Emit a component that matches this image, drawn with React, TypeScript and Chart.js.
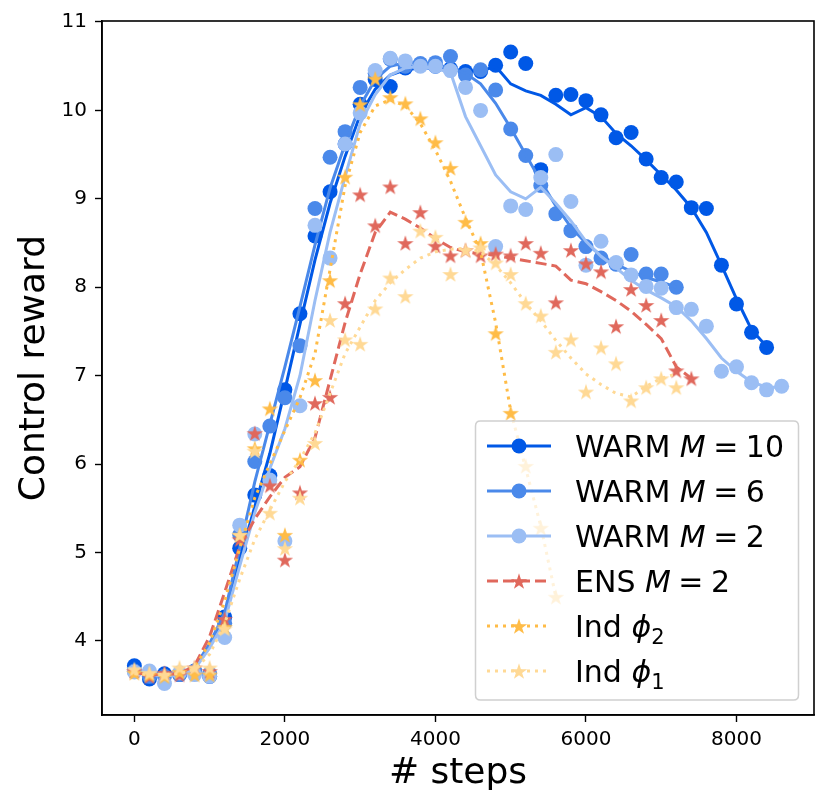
import React, { useEffect, useRef } from 'react';
import { Chart, registerables } from 'chart.js';

Chart.register(...registerables);

const STEPS = [0, 200, 400, 600, 800, 1000, 1200, 1400, 1600, 1800, 2000, 2200, 2400, 2600, 2800, 3000, 3200, 3400, 3600, 3800, 4000, 4200, 4400, 4600, 4800, 5000, 5200, 5400, 5600, 5800, 6000, 6200, 6400, 6600, 6800, 7000, 7200, 7400, 7600, 7800, 8000, 8200, 8400, 8600];
const X_TICKS = [0, 2000, 4000, 6000, 8000];
const Y_TICKS = [4, 5, 6, 7, 8, 9, 10, 11];

// WARM M=10
const M10_POINTS = [3.72, 3.57, 3.63, 3.62, 3.66, 3.60, 4.27, 5.05, 5.65, 5.87, 6.84, 7.70, 8.58, 9.08, 9.62, 10.07, 10.35, 10.27, 10.48, 10.52, 10.50, 10.47, 10.44, 10.44, 10.51, 10.66, 10.53, 9.33, 10.17, 10.18, 10.11, 9.95, 9.69, 9.75, 9.45, 9.24, 9.19, 8.90, 8.89, 8.25, 7.81, 7.49, 7.32];
const M10_LINE = [3.66, 3.63, 3.62, 3.62, 3.70, 3.95, 4.28, 4.92, 5.52, 6.12, 6.84, 7.58, 8.31, 8.95, 9.48, 9.95, 10.24, 10.40, 10.46, 10.48, 10.48, 10.46, 10.45, 10.44, 10.50, 10.30, 10.22, 10.17, 10.07, 9.95, 10.03, 9.93, 9.74, 9.60, 9.44, 9.27, 9.10, 8.90, 8.62, 8.25, 7.87, 7.52, 7.33];

// WARM M=6
const M6_POINTS = [3.66, 3.60, 3.60, 3.62, 3.66, 3.63, 4.20, 5.20, 6.03, 6.43, 6.75, 7.34, 8.89, 9.47, 9.76, 10.26, 10.42, 10.58, 10.50, 10.53, 10.54, 10.61, 10.40, 10.46, 10.23, 9.79, 9.49, 9.15, 8.83, 8.64, 8.46, 8.33, 8.26, 8.37, 8.15, 8.15, 8.00];
const M6_LINE = [3.65, 3.63, 3.62, 3.62, 3.70, 3.97, 4.32, 5.05, 5.80, 6.45, 7.10, 7.78, 8.48, 9.12, 9.62, 10.05, 10.35, 10.50, 10.54, 10.54, 10.52, 10.48, 10.42, 10.30, 10.08, 9.80, 9.50, 9.20, 8.92, 8.68, 8.50, 8.36, 8.26, 8.18, 8.11, 8.06, 8.00];

// WARM M=2
const M2_POINTS = [3.65, 3.66, 3.52, 3.64, 3.62, 3.60, 4.04, 5.31, 6.34, 5.82, 5.13, 6.66, 8.70, 8.33, 9.62, 9.97, 10.45, 10.59, 10.56, 10.50, 10.50, 10.45, 10.26, 10.00, 8.46, 8.92, 8.88, 9.24, 9.50, 8.97, 8.25, 8.52, 8.28, 8.14, 8.01, 7.99, 7.77, 7.75, 7.56, 7.05, 7.10, 6.92, 6.84, 6.88];
const M2_LINE = [3.64, 3.62, 3.60, 3.62, 3.68, 3.92, 4.22, 4.85, 5.45, 5.95, 6.40, 7.00, 7.85, 8.62, 9.25, 9.85, 10.18, 10.40, 10.48, 10.50, 10.47, 10.43, 9.93, 9.60, 9.27, 9.08, 9.00, 9.13, 8.95, 8.75, 8.52, 8.35, 8.22, 8.08, 7.97, 7.88, 7.78, 7.62, 7.42, 7.20, 7.05, 6.93, 6.87, 6.87];

// ENS M=2
const ENS_POINTS = [3.66, 3.60, 3.64, 3.62, 3.70, 3.66, 4.25, 5.15, 6.35, 5.76, 4.92, 5.68, 6.69, 6.76, 7.82, 9.05, 8.70, 9.14, 8.50, 8.85, 8.47, 8.36, 8.42, 8.36, 8.38, 8.36, 8.50, 8.39, 7.83, 8.42, 8.27, 8.18, 7.56, 7.98, 7.80, 7.63, 7.06, 6.97];
const ENS_LINE = [3.64, 3.62, 3.62, 3.63, 3.72, 4.05, 4.55, 5.07, 5.38, 5.63, 5.85, 5.97, 6.30, 6.95, 7.60, 8.15, 8.62, 8.85, 8.77, 8.67, 8.55, 8.45, 8.40, 8.38, 8.36, 8.33, 8.30, 8.27, 8.24, 8.08, 8.04, 7.95, 7.85, 7.73, 7.58, 7.42, 7.10, 6.97];

// Ind phi2
const PHI2_POINTS = [3.64, 3.62, 3.60, 3.65, 3.62, 3.62, 4.16, 5.20, 6.18, 6.63, 5.20, 6.05, 6.95, 8.08, 9.25, 10.07, 10.36, 10.15, 10.08, 9.91, 9.64, 9.35, 8.74, 8.50, 7.48, 6.58, 5.98, 5.28, 4.50];
const PHI2_LINE = [3.63, 3.62, 3.62, 3.63, 3.70, 3.98, 4.45, 5.05, 5.62, 6.00, 6.38, 6.75, 7.25, 8.20, 9.15, 9.75, 10.05, 10.12, 10.05, 9.85, 9.55, 9.20, 8.78, 8.40, 7.60, 6.60, 5.95, 5.30, 4.50];

// Ind phi1
const PHI1_POINTS = [3.68, 3.64, 3.62, 3.70, 3.70, 3.70, 4.14, 5.20, 6.15, 5.45, 5.05, 5.62, 6.24, 7.63, 7.41, 7.36, 7.76, 8.11, 7.90, 8.64, 8.57, 8.15, 8.42, 8.45, 8.28, 8.15, 7.82, 7.68, 7.27, 7.41, 6.82, 7.32, 7.14, 6.72, 6.87, 6.97, 6.87];
const PHI1_LINE = [3.63, 3.62, 3.62, 3.63, 3.68, 3.85, 4.20, 4.70, 5.15, 5.48, 5.80, 6.05, 6.35, 6.80, 7.25, 7.55, 7.85, 8.05, 8.20, 8.33, 8.40, 8.43, 8.44, 8.40, 8.25, 8.05, 7.82, 7.62, 7.40, 7.20, 7.02, 6.90, 6.80, 6.76, 6.88, 6.97, 7.02];

const COLORS = ['#0058e6', '#4a89ea', '#9bbef4', '#e0685c', '#ffbc47', '#ffd995'];

type Part = [string, 'n' | 'i' | 'sub' | 'op'];
const LEGEND_PARTS: Part[][] = [
  [['WARM ', 'n'], ['M', 'i'], ['=', 'op'], ['10', 'n']],
  [['WARM ', 'n'], ['M', 'i'], ['=', 'op'], ['6', 'n']],
  [['WARM ', 'n'], ['M', 'i'], ['=', 'op'], ['2', 'n']],
  [['ENS ', 'n'], ['M', 'i'], ['=', 'op'], ['2', 'n']],
  [['Ind ', 'n'], ['\u03D5', 'i'], ['2', 'sub']],
  [['Ind ', 'n'], ['\u03D5', 'i'], ['1', 'sub']],
];

const FONT = "'DejaVu Sans', 'Noto Sans', sans-serif";

function makeStar(color: string, R: number): HTMLCanvasElement {
  const size = Math.ceil(R * 2 + 2);
  const c = document.createElement('canvas');
  c.width = size;
  c.height = size;
  const ctx = c.getContext('2d')!;
  const cx = size / 2;
  const cy = size / 2 + R * 0.1;
  const r = R * 0.382;
  ctx.beginPath();
  for (let k = 0; k < 10; k++) {
    const rad = k % 2 === 0 ? R : r;
    const a = -Math.PI / 2 + (k * Math.PI) / 5;
    const px = cx + rad * Math.cos(a);
    const py = cy + rad * Math.sin(a);
    if (k === 0) ctx.moveTo(px, py);
    else ctx.lineTo(px, py);
  }
  ctx.closePath();
  ctx.fillStyle = color;
  ctx.fill();
  return c;
}

export default function App() {
  const ref = useRef<HTMLCanvasElement | null>(null);

  useEffect(() => {
    const canvas = ref.current;
    if (!canvas) return;

    const stars = COLORS.map((c) => makeStar(c, 8.6));
    const series = [
      { pts: M10_POINTS, line: M10_LINE, marker: 'circle', dash: [] as number[] },
      { pts: M6_POINTS, line: M6_LINE, marker: 'circle', dash: [] as number[] },
      { pts: M2_POINTS, line: M2_LINE, marker: 'circle', dash: [] as number[] },
      { pts: ENS_POINTS, line: ENS_LINE, marker: 'star', dash: [11, 5] },
      { pts: PHI2_POINTS, line: PHI2_LINE, marker: 'star', dash: [3, 5] },
      { pts: PHI1_POINTS, line: PHI1_LINE, marker: 'star', dash: [3, 5] },
    ];

    const datasets: any[] = [];
    series.forEach((s, i) => {
      const color = COLORS[i];
      datasets.push({
        label: 'pts' + i,
        data: s.pts.map((v, k) => ({ x: STEPS[k], y: v })),
        showLine: false,
        pointStyle: s.marker === 'circle' ? 'circle' : stars[i],
        pointRadius: 7.5,
        pointBackgroundColor: color,
        pointBorderColor: color,
        pointBorderWidth: 0,
        order: 100 - 2 * i,
      });
      datasets.push({
        label: 'line' + i,
        data: s.line.map((v, k) => ({ x: STEPS[k], y: v })),
        showLine: true,
        borderColor: color,
        borderWidth: 3,
        borderDash: s.dash,
        pointRadius: 0,
        tension: 0,
        fill: false,
        order: 99 - 2 * i,
      });
    });

    const framePlugin = {
      id: 'frame',
      afterDraw(chart: any) {
        const { ctx, chartArea } = chart;
        ctx.save();
        ctx.strokeStyle = '#000';
        ctx.lineWidth = 1.6;
        ctx.strokeRect(chartArea.left, chartArea.top, chartArea.right - chartArea.left, chartArea.bottom - chartArea.top);
        ctx.restore();
      },
    };

    const legendPlugin = {
      id: 'customLegend',
      afterDraw(chart: any) {
        const ctx: CanvasRenderingContext2D = chart.ctx;
        ctx.save();
        const bx = 475.5, by = 421, bw = 323, bh = 279, rr = 5;
        ctx.beginPath();
        ctx.moveTo(bx + rr, by);
        ctx.lineTo(bx + bw - rr, by);
        ctx.quadraticCurveTo(bx + bw, by, bx + bw, by + rr);
        ctx.lineTo(bx + bw, by + bh - rr);
        ctx.quadraticCurveTo(bx + bw, by + bh, bx + bw - rr, by + bh);
        ctx.lineTo(bx + rr, by + bh);
        ctx.quadraticCurveTo(bx, by + bh, bx, by + bh - rr);
        ctx.lineTo(bx, by + rr);
        ctx.quadraticCurveTo(bx, by, bx + rr, by);
        ctx.closePath();
        ctx.fillStyle = 'rgba(255,255,255,0.8)';
        ctx.fill();
        ctx.strokeStyle = '#d0d0d0';
        ctx.lineWidth = 1.5;
        ctx.stroke();

        series.forEach((s, i) => {
          const y = 446 + i * 45;
          const color = COLORS[i];
          ctx.strokeStyle = color;
          ctx.lineWidth = 3;
          ctx.setLineDash(s.dash);
          ctx.beginPath();
          ctx.moveTo(487, y);
          ctx.lineTo(551, y);
          ctx.stroke();
          ctx.setLineDash([]);
          if (s.marker === 'circle') {
            ctx.fillStyle = color;
            ctx.beginPath();
            ctx.arc(519, y, 7.5, 0, Math.PI * 2);
            ctx.fill();
          } else {
            const st = stars[i];
            ctx.drawImage(st, 519 - st.width / 2, y - st.height / 2);
          }
          let x = 575;
          const base = y + 10.5;
          ctx.fillStyle = '#000';
          ctx.textBaseline = 'alphabetic';
          ctx.textAlign = 'left';
          LEGEND_PARTS[i].forEach(([t, kind]) => {
            if (kind === 'n') {
              ctx.font = `30px ${FONT}`;
              ctx.fillText(t, x, base);
              x += ctx.measureText(t).width;
            } else if (kind === 'i') {
              ctx.font = `italic 30px ${FONT}`;
              ctx.fillText(t, x, base);
              x += ctx.measureText(t).width;
            } else if (kind === 'op') {
              ctx.font = `30px ${FONT}`;
              x += 7.5;
              ctx.fillText(t, x, base);
              x += ctx.measureText(t).width + 7.5;
            } else {
              ctx.font = `21px ${FONT}`;
              ctx.fillText(t, x, base + 7);
              x += ctx.measureText(t).width;
            }
          });
        });
        ctx.restore();
      },
    };

    const chart = new Chart(canvas, {
      type: 'line',
      data: { datasets },
      options: {
        animation: false,
        responsive: false,
        events: [],
        layout: { padding: { top: 21, right: 16, left: 0, bottom: 0 } },
        plugins: { legend: { display: false }, tooltip: { enabled: false }, title: { display: false } },
        scales: {
          x: {
            type: 'linear',
            min: -430,
            max: 9030,
            afterBuildTicks: (scale: any) => {
              scale.ticks = X_TICKS.map((v) => ({ value: v }));
            },
            afterFit: (scale: any) => {
              scale.height = 96;
            },
            ticks: {
              autoSkip: false,
              maxRotation: 0,
              padding: 6,
              color: '#000',
              font: { family: FONT, size: 20 },
              callback: (v: any) => String(v),
            },
            grid: { drawOnChartArea: false, drawTicks: true, tickLength: 7, tickColor: '#000', tickWidth: 1.4 },
            border: { color: '#000', width: 1.6 },
            title: {
              display: true,
              text: '# steps',
              color: '#000',
              font: { family: FONT, size: 36, lineHeight: 1.2 },
              padding: { top: 0, bottom: 16 },
            },
          },
          y: {
            type: 'linear',
            min: 3.163,
            max: 11.011,
            afterBuildTicks: (scale: any) => {
              scale.ticks = Y_TICKS.map((v) => ({ value: v }));
            },
            afterFit: (scale: any) => {
              scale.width = 102;
            },
            ticks: {
              autoSkip: false,
              padding: 8,
              color: '#000',
              font: { family: FONT, size: 20 },
              callback: (v: any) => String(v),
            },
            grid: { drawOnChartArea: false, drawTicks: true, tickLength: 7, tickColor: '#000', tickWidth: 1.4 },
            border: { color: '#000', width: 1.6 },
            title: {
              display: true,
              text: 'Control reward',
              color: '#000',
              font: { family: FONT, size: 36, lineHeight: 1.2 },
              padding: { top: 13, bottom: 0 },
            },
          },
        },
      },
      plugins: [framePlugin, legendPlugin],
    } as any);

    return () => {
      chart.destroy();
    };
  }, []);

  return (
    <div style={{ position: 'absolute', left: 0, top: 0, width: 830, height: 811, background: '#fff' }}>
      <canvas ref={ref} width={830} height={811} style={{ display: 'block', width: 830, height: 811 }} />
    </div>
  );
}
